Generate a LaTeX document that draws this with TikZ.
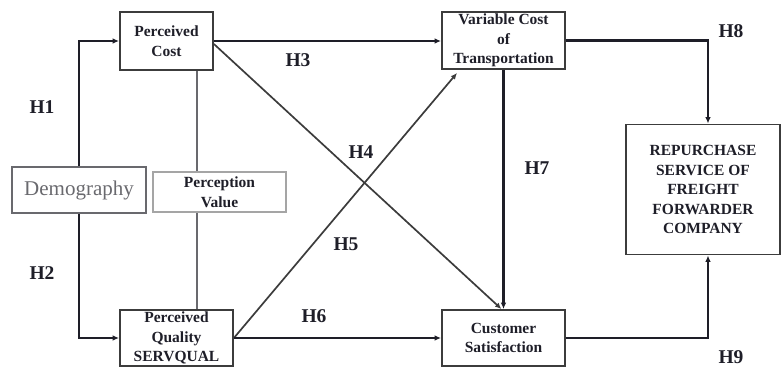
\documentclass[tikz,border=0pt]{standalone}
\usepackage{fontspec}
\setmainfont{Liberation Serif}
\usetikzlibrary{arrows.meta}
\definecolor{inkdark}{RGB}{30,30,40}
\definecolor{framegray}{RGB}{60,60,60}
\definecolor{softgray}{RGB}{105,105,110}
\definecolor{palegray}{RGB}{165,165,165}
\begin{document}
\begin{tikzpicture}[x=1pt, y=-1pt,
        box/.style = {shape=rectangle, draw=framegray, line width=1.8pt,
            align=center, inner sep=0pt, text=inkdark,
            font=\bfseries\fontsize{15.5}{19.5}\selectfont},
        hyp/.style = {text=inkdark, font=\bfseries\fontsize{19.5}{22}\selectfont},
        arr/.style = {draw=inkdark, line width=2.3pt, -{Latex[length=6.5pt,width=5.5pt]}},
        diag/.style = {draw=framegray, line width=1.7pt, -{Latex[length=6.5pt,width=5.5pt]}},
        link/.style = {draw=softgray, line width=1.5pt}]
    \useasboundingbox (0,0) rectangle (782,367);
    % boxes
    \node[box, minimum width=93pt, minimum height=58pt] (cost) at (166.5,41) {Perceived\\Cost};
    \node[box, minimum width=123pt, minimum height=57pt] (vcost) at (503.5,40.5) {Variable Cost\\of\\Transportation};
    \node[box, draw=softgray, text=softgray, font=\fontsize{21}{24}\selectfont,
        minimum width=134pt, minimum height=46pt] (demo) at (79,190) {Demography};
    \node[box, draw=palegray, line width=1.3pt, minimum width=133pt, minimum height=40pt] (pvalue) at (219.5,192) {Perception\\Value};
    \node[box, minimum width=113pt, minimum height=56pt] (quality) at (176.5,338) {Perceived\\Quality\\SERVQUAL};
    \node[box, minimum width=123pt, minimum height=56pt] (satis) at (503.5,338) {Customer\\Satisfaction};
    \node[box, minimum width=154pt, minimum height=130pt] (repur) at (703,189.5) {REPURCHASE\\SERVICE OF\\FREIGHT\\FORWARDER\\COMPANY};
    % connectors
    \draw[arr] (demo.north) |- (cost.west);
    \draw[arr] (demo.south) |- (quality.west);
    \draw[arr] (cost.east) -- (vcost.west |- cost.east);
    \draw[diag] ([yshift=-3pt]cost.east) -- ([xshift=-2pt]satis.north);
    \draw[diag] (quality.east) -- ([xshift=16pt,yshift=-3pt]vcost.south west);
    \draw[arr] (quality.east) -- (satis.west);
    \draw[arr] (vcost.south) -- (satis.north);
    \draw[arr] (vcost.east) -| ([xshift=5pt]repur.north);
    \draw[arr] (satis.east) -| ([xshift=5pt]repur.south);
    \draw[link] ([xshift=30.5pt]cost.south) -- ([xshift=30.5pt]cost.south |- pvalue.north);
    \draw[link] ([xshift=20.5pt]quality.north) -- ([xshift=20.5pt]quality.north |- pvalue.south);
    % hypotheses
    \node[hyp] (h1) at (42,107) {H1};
    \node[hyp] (h2) at (42,273) {H2};
    \node[hyp] (h3) at (298,60) {H3};
    \node[hyp] (h4) at (361,152) {H4};
    \node[hyp] (h5) at (346,244) {H5};
    \node[hyp] (h6) at (314,316) {H6};
    \node[hyp] (h7) at (537,168) {H7};
    \node[hyp] (h8) at (731,31) {H8};
    \node[hyp] (h9) at (731,357) {H9};
\end{tikzpicture}
\end{document}
